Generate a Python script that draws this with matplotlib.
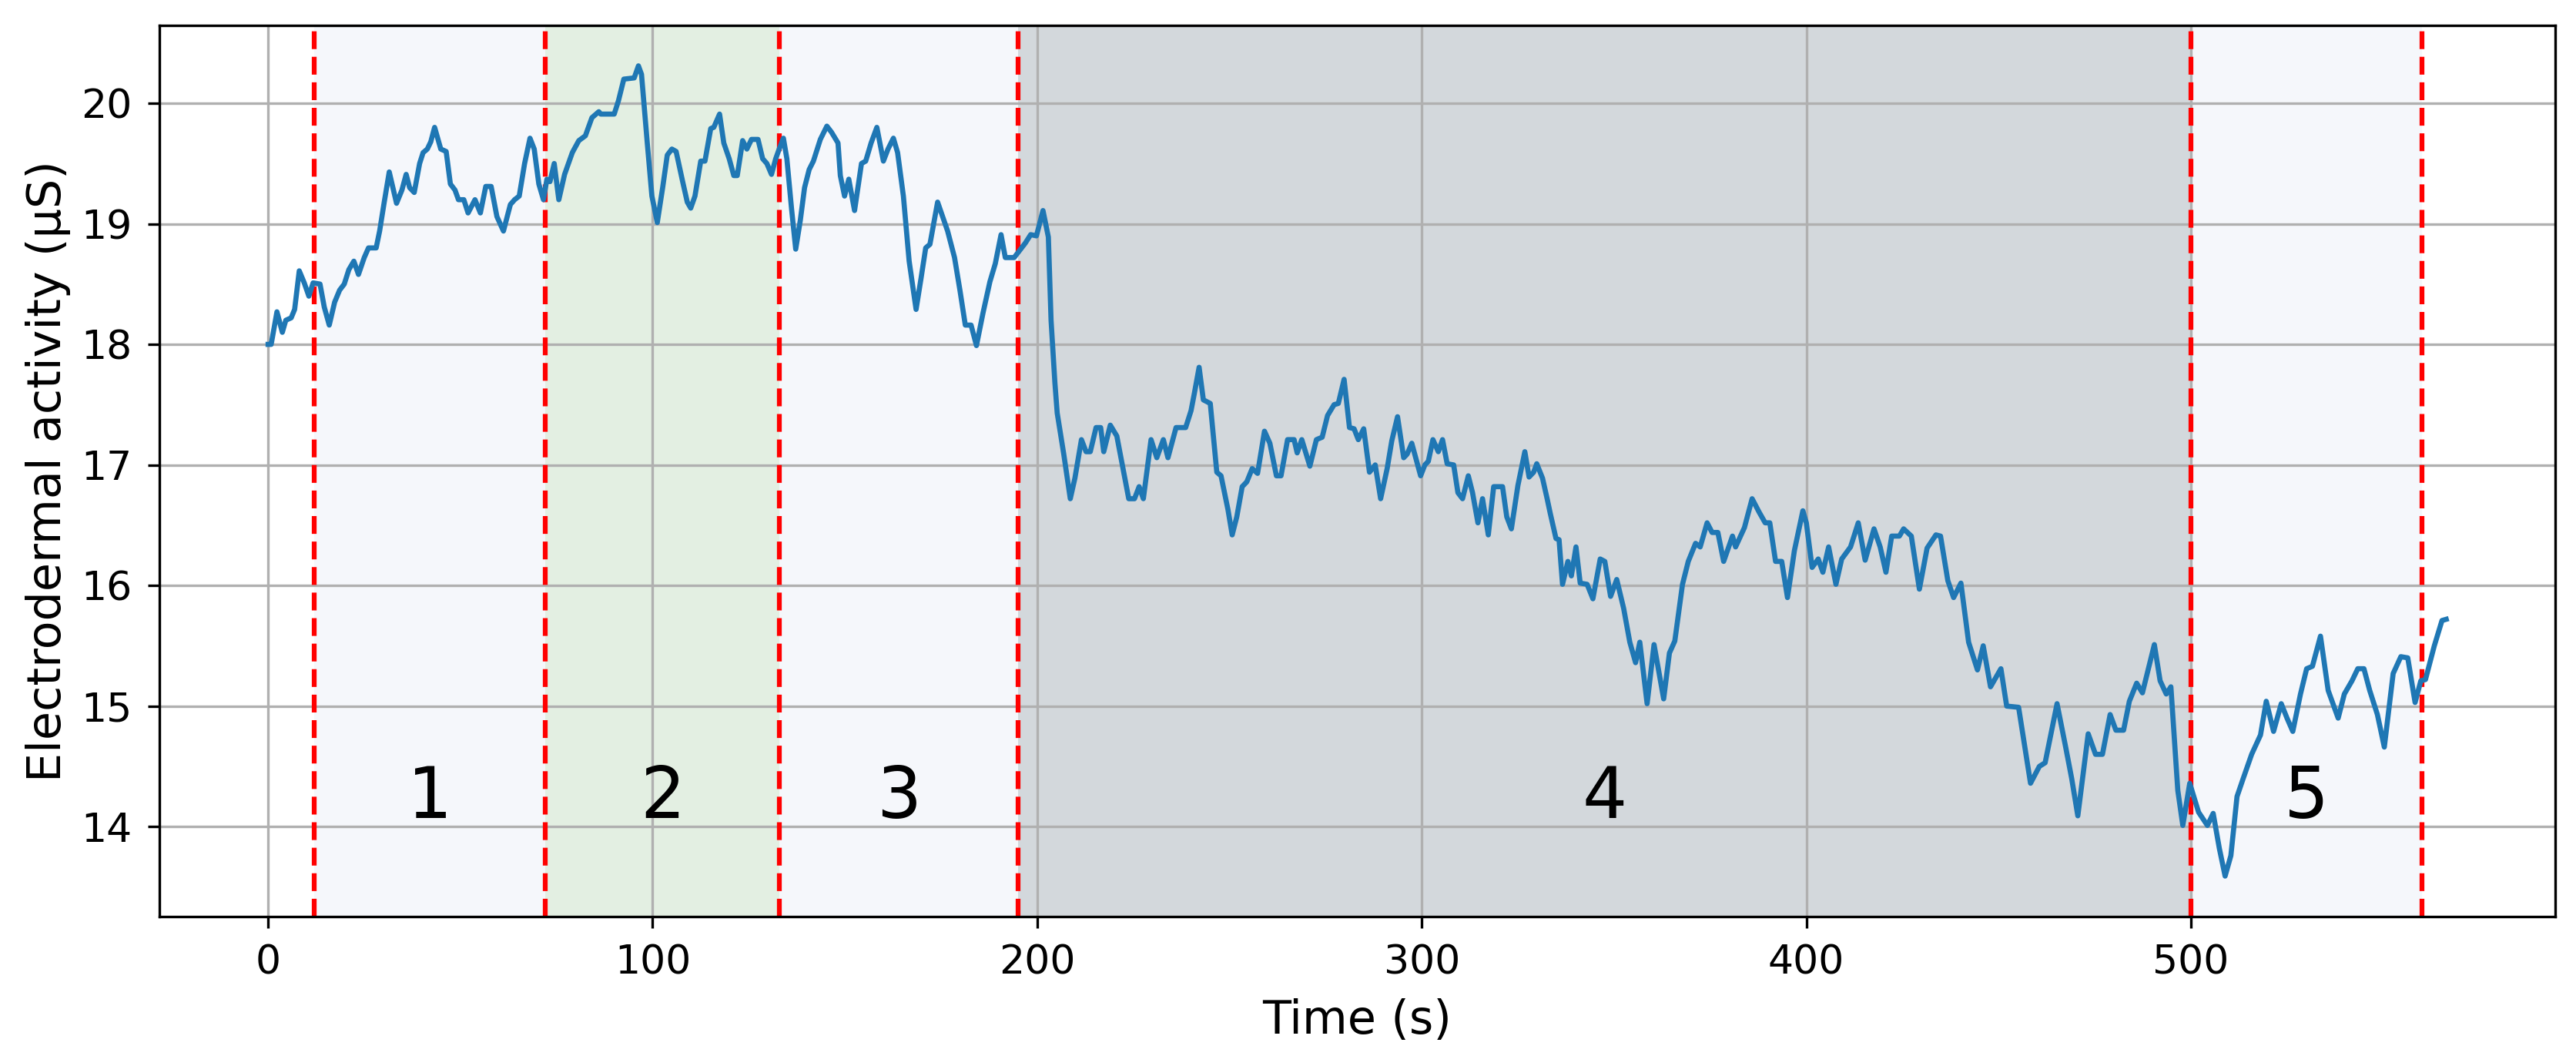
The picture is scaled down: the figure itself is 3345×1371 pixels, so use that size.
import numpy as np
import matplotlib
matplotlib.use("Agg")
import matplotlib.pyplot as plt

# electrodermal activity trace, (time s, value uS)
eda_points = [
    (0, 18.00), (0.8, 18.00), (2.3, 18.27), (3.7, 18.10), (4.6, 18.20), (6.0, 18.22),
    (6.9, 18.29), (8.1, 18.61), (9.4, 18.51), (10.6, 18.40), (11.7, 18.51), (13.5, 18.50),
    (14.6, 18.31), (15.9, 18.16), (17.3, 18.35), (18.6, 18.45), (19.8, 18.50), (21.0, 18.62),
    (22.3, 18.69), (23.5, 18.58), (25.0, 18.72), (26.1, 18.80), (28.1, 18.80), (29.0, 18.94),
    (30.2, 19.18), (31.5, 19.43), (33.4, 19.17), (34.8, 19.28), (35.9, 19.41), (36.8, 19.30),
    (38.0, 19.26), (39.4, 19.50), (40.3, 19.59), (41.4, 19.62), (42.3, 19.68), (43.3, 19.80),
    (44.9, 19.62), (46.3, 19.60), (47.4, 19.33), (48.6, 19.28), (49.5, 19.20), (50.9, 19.20),
    (52.0, 19.09), (53.8, 19.20), (55.2, 19.09), (56.6, 19.31), (58.0, 19.31), (59.5, 19.06),
    (61.2, 18.94), (63.0, 19.16), (64.1, 19.20), (65.3, 19.23), (66.7, 19.50), (68.1, 19.71),
    (69.2, 19.62), (70.4, 19.33), (71.6, 19.20), (72.5, 19.37), (73.3, 19.35), (74.4, 19.50),
    (75.6, 19.20), (77.1, 19.41), (79.1, 19.59), (79.6, 19.62), (80.8, 19.69), (82.5, 19.73),
    (84.2, 19.88), (86.0, 19.93), (86.5, 19.91), (90.0, 19.91), (91.1, 20.02), (92.5, 20.20),
    (95.2, 20.21), (96.3, 20.31), (97.1, 20.24), (98.6, 19.67), (99.8, 19.23), (101.2, 19.01),
    (102.6, 19.30), (103.8, 19.57), (105.0, 19.62), (106.1, 19.60), (107.8, 19.35), (109.0, 19.18),
    (109.9, 19.13), (111.0, 19.23), (112.5, 19.52), (113.6, 19.52), (115.1, 19.79), (115.9, 19.80),
    (117.4, 19.91), (118.5, 19.67), (119.9, 19.54), (121.1, 19.40), (122.0, 19.40), (123.4, 19.69),
    (124.5, 19.62), (125.7, 19.70), (127.4, 19.70), (128.6, 19.54), (129.7, 19.50), (130.9, 19.41),
    (132.0, 19.54), (132.9, 19.62), (134.0, 19.71), (134.9, 19.54), (136.1, 19.13), (137.2, 18.79),
    (138.4, 19.03), (139.5, 19.30), (140.7, 19.45), (141.8, 19.52), (143.6, 19.70), (145.3, 19.81),
    (146.5, 19.76), (148.2, 19.67), (148.8, 19.40), (149.9, 19.23), (151.0, 19.37), (152.5, 19.11),
    (154.3, 19.50), (155.4, 19.52), (156.8, 19.67), (158.3, 19.80), (160.0, 19.52), (161.2, 19.62),
    (162.6, 19.71), (163.7, 19.59), (165.2, 19.23), (166.7, 18.69), (168.5, 18.29), (169.8, 18.55),
    (171.0, 18.80), (172.1, 18.83), (174.1, 19.18), (175.4, 19.06), (176.7, 18.94), (178.5, 18.72),
    (179.9, 18.45), (181.3, 18.16), (182.8, 18.16), (184.2, 17.99), (185.9, 18.26), (187.7, 18.52),
    (189.1, 18.67), (190.6, 18.91), (191.7, 18.72), (194.0, 18.72), (195.7, 18.79), (196.9, 18.84),
    (198.3, 18.91), (199.8, 18.90), (201.5, 19.11), (202.9, 18.89), (203.6, 18.20), (204.6, 17.68),
    (205.2, 17.43), (206.9, 17.09), (208.6, 16.72), (209.8, 16.89), (211.5, 17.21), (212.7, 17.11),
    (213.8, 17.11), (215.3, 17.31), (216.5, 17.31), (217.3, 17.11), (219.0, 17.33), (220.7, 17.24),
    (222.5, 16.94), (223.8, 16.72), (225.3, 16.72), (226.5, 16.82), (227.6, 16.72), (229.6, 17.21),
    (231.1, 17.06), (232.8, 17.21), (234.0, 17.06), (236.1, 17.31), (238.6, 17.31), (240.0, 17.45),
    (240.9, 17.60), (242.1, 17.81), (243.2, 17.54), (245.0, 17.51), (246.7, 16.94), (247.8, 16.91),
    (249.6, 16.63), (250.7, 16.42), (251.9, 16.57), (253.3, 16.82), (254.5, 16.86), (255.9, 16.97),
    (257.3, 16.93), (259.1, 17.28), (260.5, 17.18), (262.2, 16.91), (263.4, 16.91), (265.1, 17.21),
    (266.8, 17.21), (267.6, 17.10), (268.8, 17.21), (270.9, 16.99), (272.6, 17.21), (274.1, 17.23),
    (275.5, 17.41), (277.2, 17.50), (278.3, 17.51), (279.8, 17.71), (281.2, 17.31), (282.4, 17.30),
    (283.5, 17.21), (284.9, 17.30), (286.4, 16.94), (287.9, 17.00), (289.3, 16.72), (291.0, 16.97),
    (292.2, 17.20), (293.7, 17.40), (295.3, 17.06), (296.2, 17.09), (297.4, 17.18), (298.6, 17.04),
    (299.7, 16.91), (300.8, 17.00), (301.7, 17.03), (302.9, 17.21), (304.3, 17.11), (305.4, 17.21),
    (306.6, 17.01), (308.3, 17.00), (309.4, 16.77), (310.6, 16.72), (312.1, 16.91), (313.2, 16.77),
    (314.6, 16.52), (315.8, 16.72), (317.3, 16.42), (318.7, 16.82), (321.0, 16.82), (322.1, 16.57),
    (323.3, 16.47), (325.0, 16.83), (326.8, 17.11), (327.9, 16.90), (329.1, 16.94), (329.9, 17.01),
    (331.4, 16.89), (332.6, 16.72), (333.4, 16.60), (334.9, 16.39), (335.7, 16.38), (336.6, 16.01),
    (338.0, 16.20), (338.9, 16.08), (340.1, 16.32), (341.2, 16.02), (343.0, 16.01), (344.5, 15.89),
    (346.4, 16.22), (347.6, 16.20), (349.1, 15.91), (350.7, 16.05), (352.5, 15.81), (354.1, 15.53),
    (355.6, 15.36), (356.7, 15.53), (358.6, 15.02), (360.4, 15.51), (362.9, 15.06), (364.4, 15.44),
    (365.8, 15.54), (367.8, 16.01), (369.3, 16.20), (371.2, 16.35), (372.4, 16.32), (374.2, 16.52),
    (375.5, 16.44), (377.0, 16.44), (378.5, 16.20), (380.8, 16.41), (381.6, 16.32), (383.9, 16.48),
    (385.9, 16.72), (387.7, 16.61), (389.3, 16.52), (390.5, 16.52), (392.0, 16.20), (393.6, 16.20),
    (395.1, 15.90), (396.9, 16.29), (399.1, 16.62), (400.0, 16.52), (401.5, 16.15), (403.1, 16.22),
    (404.3, 16.11), (405.8, 16.32), (407.7, 16.01), (409.2, 16.22), (411.5, 16.32), (413.5, 16.52),
    (415.3, 16.21), (417.6, 16.47), (419.2, 16.32), (420.7, 16.11), (422.2, 16.41), (424.2, 16.41),
    (425.3, 16.47), (427.3, 16.41), (429.4, 15.97), (431.4, 16.31), (433.7, 16.42), (434.9, 16.41),
    (436.8, 16.04), (438.3, 15.90), (440.2, 16.02), (442.2, 15.53), (444.5, 15.30), (446.0, 15.50),
    (447.9, 15.16), (450.6, 15.31), (452.1, 15.00), (455.2, 14.99), (458.3, 14.36), (460.6, 14.50),
    (462.1, 14.53), (465.2, 15.02), (467.5, 14.65), (469.0, 14.40), (470.6, 14.09), (473.3, 14.77),
    (475.2, 14.60), (477.0, 14.60), (479.0, 14.93), (480.5, 14.80), (482.5, 14.80), (484.0, 15.04),
    (485.9, 15.19), (487.4, 15.11), (490.5, 15.51), (492.0, 15.21), (493.6, 15.10), (494.8, 15.16),
    (496.6, 14.30), (497.9, 14.01), (499.7, 14.36), (502.0, 14.12), (504.3, 14.01), (505.8, 14.11),
    (507.4, 13.82), (508.9, 13.59), (510.4, 13.76), (512.0, 14.25), (513.5, 14.39), (515.8, 14.60),
    (518.1, 14.76), (519.6, 15.04), (521.5, 14.79), (523.5, 15.02), (525.0, 14.90), (526.5, 14.79),
    (528.5, 15.10), (530.1, 15.31), (531.6, 15.33), (533.7, 15.58), (535.7, 15.13), (538.3, 14.90),
    (539.9, 15.10), (541.9, 15.21), (543.4, 15.31), (545.0, 15.31), (546.5, 15.13), (548.5, 14.93),
    (550.3, 14.66), (552.6, 15.27), (554.6, 15.41), (556.4, 15.40), (558.3, 15.03), (559.8, 15.21),
    (561.0, 15.22), (563.3, 15.50), (565.3, 15.71), (566.4, 15.72),
]

# phase boundaries (s) and labels
phase_edges = [12, 72, 133, 195, 500, 560]
phase_labels = ["1", "2", "3", "4", "5"]
phase_colors = ["#f5f7fb", "#e3efe2", "#f5f7fb", "#d3d8dc", "#f5f7fb"]

time_s = np.array([p[0] for p in eda_points])
eda = np.array([p[1] for p in eda_points])

fig = plt.figure(figsize=(11.15, 4.57), dpi=300)
ax = fig.add_axes([0.0618, 0.132, 0.9301, 0.844])

for i in range(len(phase_labels)):
    ax.axvspan(phase_edges[i], phase_edges[i + 1], color=phase_colors[i], lw=0)
    ax.text((phase_edges[i] + phase_edges[i + 1]) / 2, 14.07, phase_labels[i],
            fontsize=22, ha="center", va="baseline")

for x in phase_edges:
    ax.axvline(x, color="r", linestyle="--", lw=1.5)

ax.plot(time_s, eda, color="#1f77b4", lw=1.6)

ax.grid(True)
ax.set_xlabel("Time (s)", fontsize=14.5, labelpad=5)
ax.set_ylabel("Electrodermal activity (µS)", fontsize=14.5, labelpad=3)
ax.tick_params(labelsize=12.5, pad=5)

fig.savefig("out.png", dpi=300)
